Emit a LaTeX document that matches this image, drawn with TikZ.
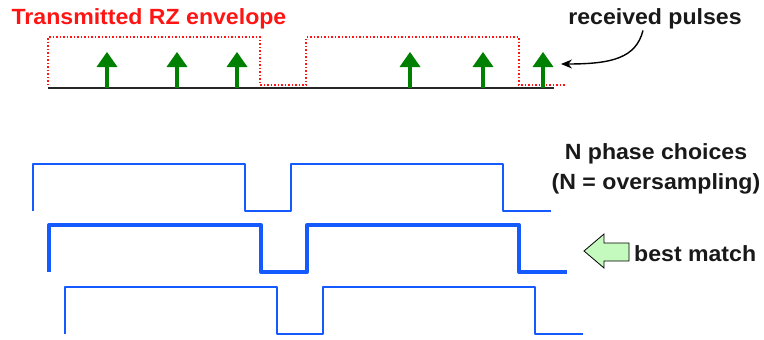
\documentclass[tikz,border=0pt]{standalone}
\usepackage{fontspec}
\setmainfont{Liberation Sans}[FakeStretch=1.05]
\usepackage{xcolor}
\definecolor{rzred}{RGB}{255,20,20}
\definecolor{pulsegreen}{RGB}{0,128,0}
\definecolor{phaseblue}{RGB}{20,90,255}
\definecolor{matchgreen}{RGB}{196,250,190}
\usetikzlibrary{arrows.meta}

\tikzset{
  lbl/.style={font=\fontsize{22}{30}\bfseries\selectfont, inner sep=1pt, text=black!90},
  pulse/.style={pulsegreen, line width=4.5pt,
    -{Triangle[width=21pt, length=15pt, line width=0pt]}},
  phase/.style={phaseblue, line width=1.6pt, line join=round},
  bestphase/.style={phaseblue, line width=4pt, line join=round}
}

\begin{document}
\begin{tikzpicture}[x=1pt, y=-1pt]
\useasboundingbox (0,0) rectangle (764,340);

% ===== Top: transmitted envelope and received pulses =====
\node[lbl, text=rzred] (title) at (149,18.5) {Transmitted RZ envelope};

\draw[rzred, line width=1.5pt, dotted] (48,85) -- (48,37) -- (260,37) -- (260,85)
   -- (306,85) -- (306,37) -- (519,37) -- (519,85) -- (566,85);
\draw[black!85, line width=2pt] (48,88) -- (554,88);

% pulses
\foreach \x in {107, 177, 237, 410, 483, 543} {
  \draw[pulse] (\x,88) -- (\x,52);
}

\node[lbl] (recv) at (655,19) {received pulses};
\coordinate (pulsept) at (561,64);
\draw[black, line width=1.4pt, -{Stealth[length=11pt, width=9pt]}]
  ([xshift=-12pt]recv.south) .. controls (636,58) and (612,64) .. (pulsept);

% ===== Bottom: N phase choices =====
\foreach \x/\y/\s in {33/164/phase, 49/225/bestphase, 65/287/phase} {
  \draw[\s] (\x,\y+47) -- (\x,\y) -- (\x+212,\y) -- (\x+212,\y+47) -- (\x+258,\y+47)
     -- (\x+258,\y) -- (\x+470,\y) -- (\x+470,\y+47) -- (\x+518,\y+47);
}

\node[lbl, align=center] (choices) at (656,169) {N phase choices\\(N = oversampling)};

\node[lbl, anchor=west] (best) at (633,254) {best match};
\draw[black, line width=0.8pt, fill=matchgreen] (629,243) -- (604,243) -- (604,234)
   -- (584,251) -- (604,268) -- (604,261) -- (629,261) -- cycle;

\end{tikzpicture}
\end{document}
